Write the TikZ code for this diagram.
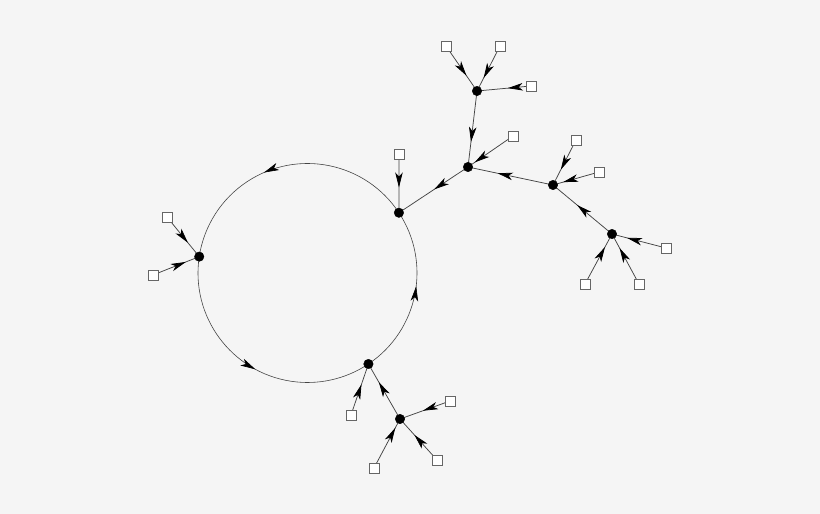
\documentclass[tikz,border=0pt]{standalone}
\usetikzlibrary{arrows.meta,decorations.markings,backgrounds}
\definecolor{bgc}{HTML}{F5F5F5}
\definecolor{linec}{HTML}{444444}
\definecolor{boxc}{HTML}{666666}
\tikzset{
  x=1pt,y=1pt,
  dot/.style={circle,fill=black,draw=black,inner sep=0pt,minimum size=9.5pt},
  sq/.style={rectangle,fill=white,draw=boxc,line width=0.8pt,inner sep=0pt,minimum size=10pt},
  edge/.style={draw=linec,line width=0.75pt},
  ring/.style={draw=linec,line width=0.6pt},
  midarrow/.style={postaction={decorate,decoration={markings,
      mark=at position #1 with {\arrow{Stealth[length=15pt,width=7.5pt,inset=4pt,black]}}}}}
}
\begin{document}
\begin{tikzpicture}
\useasboundingbox (0,0) rectangle (820,-514);
\coordinate (ctr) at (307.5,-273);
% ring nodes
\node[dot] (A) at ([shift={(33.4:109.5)}]ctr) {};
\node[dot] (B) at ([shift={(171.4:109.5)}]ctr) {};
\node[dot] (C) at ([shift={(303.8:109.5)}]ctr) {};
% inner nodes
\node[dot] (n1) at (477,-91) {};
\node[dot] (n2) at (468,-167) {};
\node[dot] (n3) at (553,-185) {};
\node[dot] (n4) at (612,-234) {};
\node[dot] (n5) at (400,-419) {};
% squares
\node[sq] (s1) at (446,-46) {};
\node[sq] (s2) at (500,-46) {};
\node[sq] (s3) at (531,-86) {};
\node[sq] (s4) at (513,-136) {};
\node[sq] (s5) at (399,-154) {};
\node[sq] (s6) at (576,-140) {};
\node[sq] (s7) at (599,-172) {};
\node[sq] (s8) at (666,-248) {};
\node[sq] (s9) at (585,-284) {};
\node[sq] (s10) at (639,-284) {};
\node[sq] (s11) at (167,-217) {};
\node[sq] (s12) at (153,-275) {};
\node[sq] (s13) at (351,-415) {};
\node[sq] (s14) at (450,-401) {};
\node[sq] (s15) at (374,-468) {};
\node[sq] (s16) at (437,-460) {};
\begin{scope}[on background layer]
\fill[bgc] (0,0) rectangle (820,-514);
% ring arcs
\draw[ring,midarrow=0.58] (A.center) arc[start angle=33.4,end angle=171.4,radius=109.5];
\draw[ring,midarrow=0.53] (B.center) arc[start angle=171.4,end angle=303.8,radius=109.5];
\draw[ring,midarrow=0.55] (C.center) arc[start angle=-56.2,end angle=33.4,radius=109.5];
% tree edges
\draw[edge,midarrow=0.66] (s1.center) -- (n1.center);
\draw[edge,midarrow=0.71] (s2.center) -- (n1.center);
\draw[edge,midarrow=0.43] (s3.center) -- (n1.center);
\draw[edge,midarrow=0.67] (n1.center) -- (n2.center);
\draw[edge,midarrow=0.85] (s4.center) -- (n2.center);
\draw[edge,midarrow=0.49] (n2.center) -- (A.center);
\draw[edge,midarrow=0.57] (s5.center) -- (A.center);
\draw[edge,midarrow=0.65] (n3.center) -- (n2.center);
\draw[edge,midarrow=0.66] (s6.center) -- (n3.center);
\draw[edge,midarrow=0.78] (s7.center) -- (n3.center);
\draw[edge,midarrow=0.59] (n4.center) -- (n3.center);
\draw[edge,midarrow=0.72] (s8.center) -- (n4.center);
\draw[edge,midarrow=0.74] (s9.center) -- (n4.center);
\draw[edge,midarrow=0.72] (s10.center) -- (n4.center);
\draw[edge,midarrow=0.65] (s11.center) -- (B.center);
\draw[edge,midarrow=0.71] (s12.center) -- (B.center);
\draw[edge,midarrow=0.60] (s13.center) -- (C.center);
\draw[edge,midarrow=0.67] (n5.center) -- (C.center);
\draw[edge,midarrow=0.54] (s14.center) -- (n5.center);
\draw[edge,midarrow=0.82] (s15.center) -- (n5.center);
\draw[edge,midarrow=0.61] (s16.center) -- (n5.center);
\end{scope}
\end{tikzpicture}
\end{document}
